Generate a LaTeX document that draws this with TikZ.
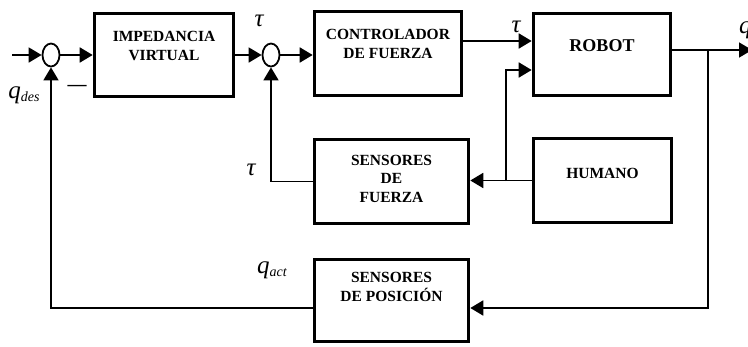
\documentclass[tikz,border=0pt]{standalone}
\usepackage{fontspec}
\setmainfont{Liberation Serif}
\usetikzlibrary{arrows.meta,shapes.geometric}
\tikzset{
  flow/.style={-{Triangle[length=13pt,width=15pt]}, line width=1.8pt, draw=black},
  block/.style={draw=black, line width=3.6pt, fill=white, inner sep=0pt},
  block text/.style={align=center, font=\fontsize{15.5}{18.5}\selectfont\bfseries},
  sum/.style={ellipse, draw=black, line width=1.8pt, fill=white,
    minimum width=17pt, minimum height=23pt, inner sep=0pt},
  sig label/.style={font=\fontsize{25}{25}\selectfont\itshape, inner sep=0pt}
}
\newcommand{\sigsub}[2]{#1\raisebox{-3pt}{\fontsize{14}{14}\selectfont #2}}

\begin{document}
\begin{tikzpicture}[x=1pt, y=-1pt]
  \useasboundingbox (0,0) rectangle (748,346);

  % blocks
  \node[block, minimum width=139pt, minimum height=83pt] (imp) at (164,55) {};
  \node[block, minimum width=147pt, minimum height=84pt] (ctrl) at (388,53.5) {};
  \node[block, minimum width=137pt, minimum height=82pt] (robot) at (602,54.5) {};
  \node[block, minimum width=154pt, minimum height=84pt] (sdf) at (391.5,181.5) {};
  \node[block, minimum width=138pt, minimum height=84pt] (hum) at (602.5,180.5) {};
  \node[block, minimum width=154pt, minimum height=82pt] (sdp) at (391.5,300.5) {};

  \node[block text] (imp text) at (164,46) {IMPEDANCIA\\VIRTUAL};
  \node[block text] (ctrl text) at (388,44) {CONTROLADOR\\DE FUERZA};
  \node[block text, font=\fontsize{18}{20}\selectfont\bfseries] (robot text) at (602,46) {ROBOT};
  \node[block text] (sdf text) at (391.5,178.5) {SENSORES\\DE\\FUERZA};
  \node[block text] (hum text) at (602.5,173) {HUMANO};
  \node[block text] (sdp text) at (391.5,287) {SENSORES\\DE POSICIÓN};

  % summing points
  \node[sum] (sum1) at (51,55) {};
  \node[sum] (sum2) at (271,55) {};

  \coordinate (in) at (12,55);
  \coordinate (out) at (752,50);
  \coordinate (branch) at (708,50);
  \coordinate (hjoin) at (506,181);

  % forward path
  \draw[flow] (in) -- (sum1.west);
  \draw[flow] (sum1.east) -- (imp.west);
  \draw[flow] (imp.east) -- (sum2.west);
  \draw[flow] (sum2.east) -- (sum2.east -| ctrl.west);
  \draw[flow] ([yshift=12.5pt]ctrl.east) -- ([yshift=13.5pt]robot.west);
  \draw[flow] ([yshift=4.5pt]robot.east) -- (out);

  % human and force feedback
  \draw[flow] (hum.west) -- (hum.west -| sdf.east);
  \draw[flow] (hjoin) |- ([yshift=-15.5pt]robot.west);
  \draw[flow] (sdf.west) -| (sum2.south);

  % position feedback
  \draw[flow] (branch) |- ([yshift=-7.5pt]sdp.east);
  \draw[flow] ([yshift=-7.5pt]sdp.west) -| (sum1.south);

  % signal labels
  \node[sig label] (tau1) at (259,21) {τ};
  \node[sig label] (tau2) at (516,27) {τ};
  \node[sig label] (tau3) at (251,170) {τ};
  \node[sig label] (qdes) at (24,95) {\sigsub{q}{des}};
  \node[sig label] (qact) at (272,270) {\sigsub{q}{act}};
  \node[sig label, anchor=west] (qout) at (739,30) {q};
  \node[font=\fontsize{19}{19}\selectfont\bfseries, inner sep=0pt] (minus) at (77,88) {—};
\end{tikzpicture}
\end{document}
